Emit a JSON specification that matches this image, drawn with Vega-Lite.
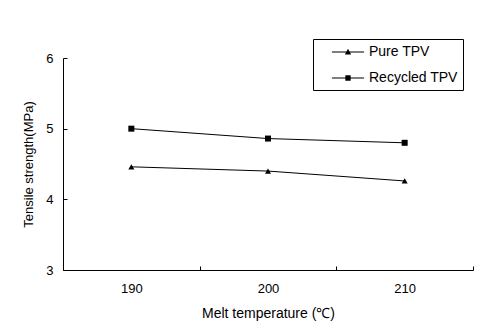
{
  "$schema": "https://vega.github.io/schema/vega-lite/v6.json",
  "autosize": "none",
  "width": 410,
  "height": 212,
  "padding": {"left": 63, "top": 58, "right": 17, "bottom": 65},
  "background": "white",
  "config": {
    "view": {"stroke": null},
    "font": "Liberation Sans",
    "axis": {"domainColor": "black", "tickColor": "black", "labelColor": "black", "titleColor": "black", "grid": false, "labelFont": "Liberation Sans", "titleFont": "Liberation Sans", "labelFontSize": 13, "titleFontSize": 13, "titleFontWeight": "normal"}
  },
  "data": {
    "values": [
      {"temp": "190", "series": "Pure TPV", "strength": 4.46},
      {"temp": "200", "series": "Pure TPV", "strength": 4.40},
      {"temp": "210", "series": "Pure TPV", "strength": 4.26},
      {"temp": "190", "series": "Recycled TPV", "strength": 5.00},
      {"temp": "200", "series": "Recycled TPV", "strength": 4.86},
      {"temp": "210", "series": "Recycled TPV", "strength": 4.80}
    ]
  },
  "encoding": {
    "x": {
      "field": "temp", "type": "ordinal", "bandPosition": 0.5,
      "scale": {"type": "band", "paddingInner": 0, "paddingOuter": 0},
      "axis": {"title": "Melt temperature (\u2103)", "titleFontSize": 14, "labelAngle": 0, "tickBand": "extent", "tickSize": -4, "labelPadding": 16, "titlePadding": 11}
    },
    "y": {
      "field": "strength", "type": "quantitative",
      "scale": {"domain": [3, 6], "zero": false, "nice": false},
      "axis": {"title": "Tensile strength(MPa)", "values": [3, 4, 5, 6], "tickSize": -4, "labelPadding": 14, "titlePadding": 10}
    }
  },
  "layer": [
    {
      "mark": {"type": "line", "color": "black", "strokeWidth": 1},
      "encoding": {"detail": {"field": "series"}}
    },
    {
      "mark": {"type": "point", "filled": true, "color": "black", "opacity": 1, "size": 36},
      "encoding": {
        "shape": {
          "field": "series", "type": "nominal",
          "scale": {"domain": ["Pure TPV", "Recycled TPV"], "range": ["triangle-up", "square"]},
          "legend": null
        }
      }
    },
    {
      "mark": {"type": "point", "filled": true, "color": "black", "opacity": 0},
      "encoding": {
        "shape": {
          "field": "series", "type": "nominal",
          "scale": {"domain": ["Pure TPV", "Recycled TPV"], "range": ["M-2.3,-0.07L2.3,-0.07L2.3,0.07L-2.3,0.07ZM0,-0.48L0.45,0.36L-0.45,0.36Z", "M-2.3,-0.07L2.3,-0.07L2.3,0.07L-2.3,0.07ZM-0.38,-0.38L0.38,-0.38L0.38,0.38L-0.38,0.38Z"]},
          "legend": {
            "title": null,
            "orient": "none",
            "legendX": 250,
            "legendY": -19,
            "strokeColor": "black",
            "padding": 5,
            "rowPadding": 11,
            "labelFontSize": 14,
            "labelColor": "black",
            "labelFont": "Liberation Sans",
            "symbolSize": 196,
            "symbolOffset": 22,
            "symbolFillColor": "black",
            "symbolOpacity": 1,
            "labelOffset": 13,
            "labelExpr": "datum.label + '   '"
          }
        }
      }
    }
  ],
  "resolve": {"scale": {"shape": "independent"}}
}
